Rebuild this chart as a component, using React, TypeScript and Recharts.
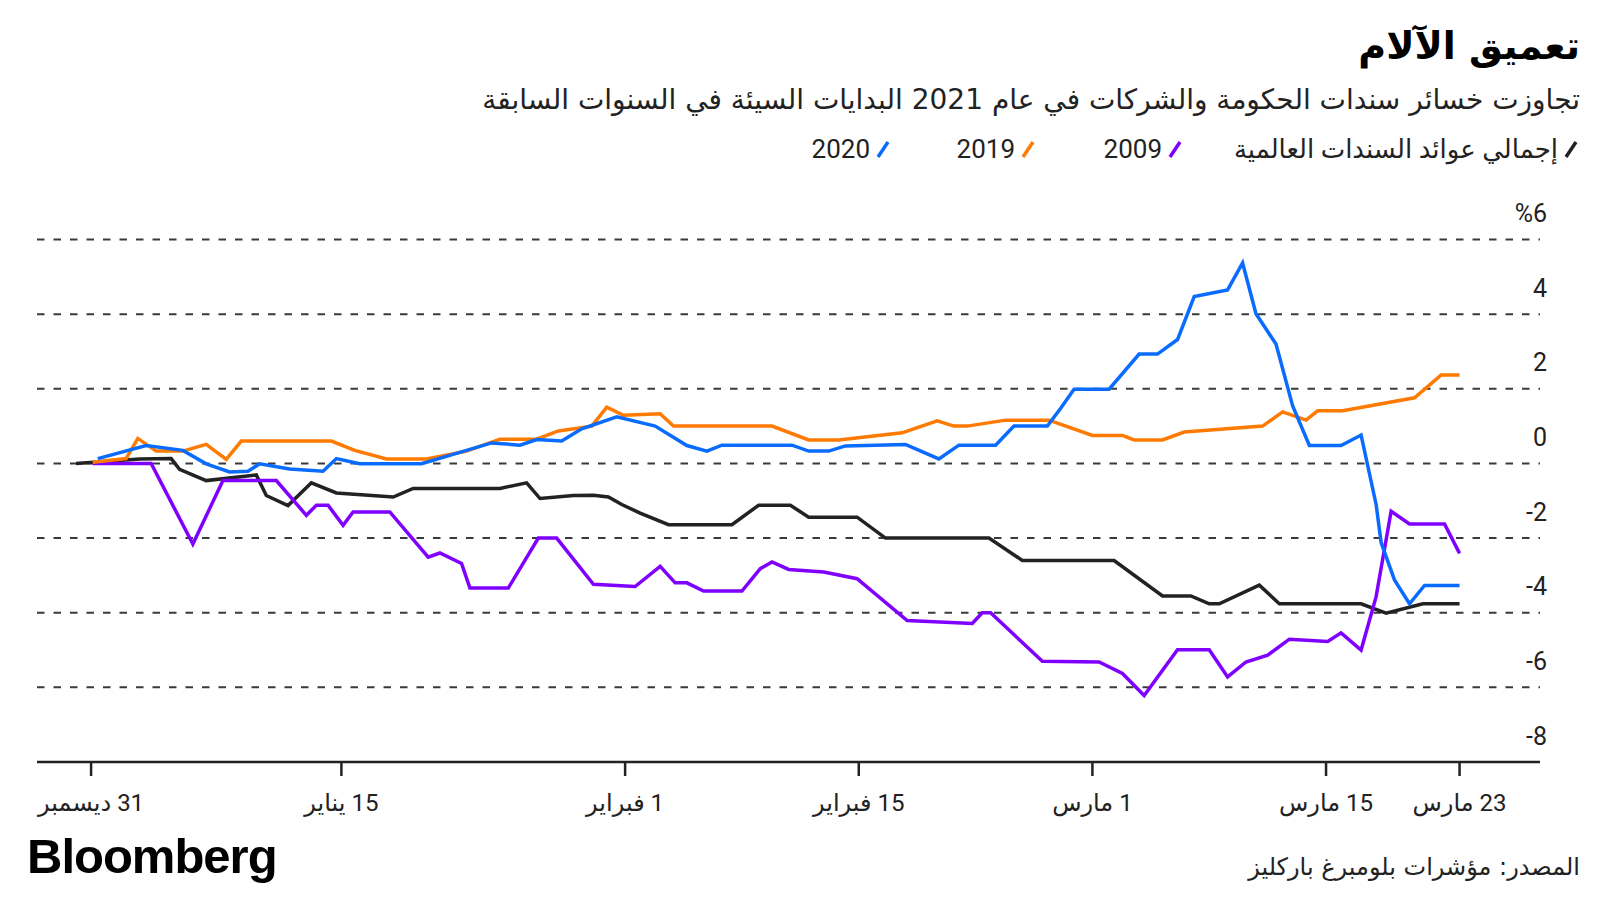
import React from 'react';
import { LineChart, Line, XAxis, YAxis, CartesianGrid } from 'recharts';

// x: calendar days since 31 Dec; y: cumulative return, %
const xTickDays = [0, 15, 32, 46, 60, 74, 82];
const xTickLabels = ['31 ديسمبر', '15 يناير', '1 فبراير', '15 فبراير', '1 مارس', '15 مارس', '23 مارس'];
const yTicks = [-8, -6, -4, -2, 0, 2, 4, 6];
const yTickLabels = ['-8', '-6', '-4', '-2', '0', '2', '4', '%6'];

const seriesNames = ['إجمالي عوائد السندات العالمية', '2009', '2019', '2020'];
const seriesColors = ['#222222', '#7f00ff', '#ff7a00', '#0a6cff'];

const globalAgg2021: [number, number][] = [
  [-0.9, 0], [2.9, 0.12], [4.8, 0.13], [5.3, -0.16], [6.9, -0.46], [9.9, -0.31], [10.5, -0.86],
  [11.8, -1.13], [13.2, -0.52], [14.7, -0.79], [18.1, -0.9], [19.3, -0.67], [24.5, -0.67],
  [26.1, -0.52], [26.9, -0.94], [28.9, -0.86], [30.1, -0.85], [31.0, -0.9], [31.8, -1.1],
  [32.9, -1.33], [34.6, -1.64], [38.4, -1.64], [40.0, -1.12], [41.9, -1.12], [43.0, -1.44],
  [45.9, -1.44], [47.6, -2.0], [53.8, -2.0], [55.8, -2.6], [61.3, -2.6], [64.2, -3.55],
  [65.9, -3.55], [67.0, -3.76], [67.6, -3.76], [70.0, -3.26], [71.2, -3.76], [76.1, -3.76],
  [77.6, -4.01], [79.8, -3.76], [82.0, -3.76],
];

const year2009: [number, number][] = [
  [0.1, 0], [3.6, 0], [6.1, -2.16], [7.9, -0.46], [11.1, -0.46], [12.9, -1.39], [13.5, -1.12],
  [14.2, -1.12], [15.1, -1.66], [15.7, -1.3], [17.9, -1.3], [20.2, -2.51], [20.9, -2.4],
  [22.2, -2.68], [22.7, -3.34], [25.0, -3.34], [26.8, -2.0], [27.9, -2.0], [30.1, -3.24],
  [32.6, -3.3], [34.1, -2.76], [35.0, -3.2], [35.7, -3.2], [36.7, -3.42], [39.0, -3.42],
  [40.1, -2.82], [40.8, -2.64], [41.8, -2.84], [43.9, -2.91], [45.9, -3.09], [48.9, -4.21],
  [52.8, -4.29], [53.4, -4.0], [53.9, -4.0], [57.0, -5.3], [60.4, -5.32], [61.8, -5.63],
  [63.1, -6.22], [65.1, -4.99], [67.0, -4.99], [68.1, -5.72], [69.2, -5.32], [70.5, -5.14],
  [71.8, -4.71], [74.1, -4.77], [74.9, -4.54], [76.1, -5.0], [77.0, -3.57], [77.9, -1.28],
  [79.0, -1.62], [81.1, -1.62], [82.0, -2.41],
];

const year2019: [number, number][] = [
  [0.1, 0.03], [2.1, 0.13], [2.8, 0.67], [3.9, 0.33], [5.5, 0.33], [6.9, 0.51], [8.1, 0.11],
  [9.0, 0.6], [14.4, 0.6], [15.8, 0.35], [17.7, 0.12], [20.1, 0.12], [22.5, 0.33], [24.5, 0.65],
  [26.7, 0.65], [28.0, 0.87], [30.0, 1.0], [30.9, 1.51], [31.9, 1.29], [34.1, 1.33], [34.9, 1.0],
  [40.8, 1.0], [43.0, 0.63], [44.8, 0.63], [48.6, 0.82], [50.7, 1.14], [51.7, 1.0], [52.5, 1.0],
  [54.8, 1.16], [57.4, 1.16], [60.0, 0.75], [61.8, 0.75], [62.5, 0.63], [64.2, 0.63],
  [65.5, 0.84], [70.2, 1.0], [71.4, 1.38], [72.8, 1.16], [73.5, 1.41], [75.0, 1.41],
  [79.3, 1.76], [80.9, 2.37], [82.0, 2.37],
];

const year2020: [number, number][] = [
  [0.4, 0.13], [3.3, 0.48], [5.5, 0.35], [6.9, -0.01], [8.3, -0.23], [9.4, -0.21], [10.1, -0.01],
  [11.9, -0.15], [13.9, -0.21], [14.7, 0.13], [16.1, -0.01], [19.8, -0.01], [24.0, 0.55],
  [25.7, 0.49], [26.7, 0.64], [28.2, 0.6], [29.4, 0.93], [31.5, 1.25], [33.8, 1.0], [35.7, 0.48],
  [36.9, 0.33], [37.8, 0.49], [42.0, 0.49], [43.0, 0.33], [44.2, 0.33], [45.2, 0.47],
  [48.8, 0.51], [50.8, 0.12], [52.0, 0.49], [54.2, 0.49], [55.3, 1.0], [57.3, 1.0], [58.1, 1.48],
  [58.9, 1.99], [61.0, 1.99], [62.8, 2.93], [63.9, 2.93], [65.1, 3.32], [66.1, 4.47],
  [68.1, 4.65], [69.0, 5.37], [69.8, 4.01], [71.0, 3.2], [72.0, 1.54], [73.0, 0.48], [74.9, 0.48],
  [76.1, 0.76], [77.0, -1.1], [77.3, -2.12], [78.1, -3.12], [79.0, -3.76], [79.9, -3.27],
  [82.0, -3.27],
];

const allSeries = [globalAgg2021, year2009, year2019, year2020];

// legend item right edges (page px)
const legendRight = [20, 416, 563, 708];

const AR_FONT = "'DejaVu Sans', 'Noto Sans', sans-serif";
const NUM_FONT = "Roboto, 'DejaVu Sans', sans-serif";
const TEXT = '#222222';

const toRows = (pts: [number, number][]) => pts.map(([d, v]) => ({ d, v }));

const YTick = (props: any) => {
  const { x, y, payload } = props;
  const i = yTicks.indexOf(payload.value);
  return (
    <text x={x + 7} y={y - 26} textAnchor="end" dominantBaseline="central" fontSize={25}
      fill={TEXT} fontFamily={NUM_FONT}>{yTickLabels[i]}</text>
  );
};

const XTick = (props: any) => {
  const { x, y, payload } = props;
  const i = xTickDays.indexOf(payload.value);
  return (
    <text x={x} y={y + 27} textAnchor="middle" dominantBaseline="central" fontSize={24}
      fill={TEXT} fontFamily={NUM_FONT} direction="rtl" style={{ direction: 'rtl', unicodeBidi: 'embed' }}>
      {xTickLabels[i]}
    </text>
  );
};

const Slash = ({ color }: { color: string }) => (
  <svg width={18} height={24} style={{ display: 'block' }}>
    <line x1={4} y1={20} x2={14} y2={5} stroke={color} strokeWidth={3.5} />
  </svg>
);

export default function App() {
  return (
    <div style={{ position: 'absolute', left: 0, top: 0, width: 1600, height: 900, background: '#fff', overflow: 'hidden' }}>
      <div dir="rtl" style={{ position: 'absolute', right: 20, top: 20, fontFamily: AR_FONT, fontWeight: 700, fontSize: 38, lineHeight: '52px', color: '#000' }}>
        تعميق الآلام
      </div>
      <div dir="rtl" style={{ position: 'absolute', right: 20, top: 80, fontFamily: AR_FONT, fontSize: 28, lineHeight: '40px', color: TEXT }}>
        تجاوزت خسائر سندات الحكومة والشركات في عام 2021 البدايات السيئة في السنوات السابقة
      </div>
      {seriesNames.map((n, i) => (
        <div key={n} dir="rtl" style={{ position: 'absolute', right: legendRight[i], top: 131, display: 'flex', alignItems: 'center', fontFamily: NUM_FONT, fontSize: 26, lineHeight: '36px', color: TEXT, whiteSpace: 'nowrap' }}>
          <Slash color={seriesColors[i]} />
          <span style={{ marginRight: 4 }}>{n}</span>
        </div>
      ))}

      <LineChart width={1600} height={900} margin={{ top: 239.5, right: 0, left: 37, bottom: 98 }}>
        <CartesianGrid vertical={false} stroke="#3a3a3a" strokeDasharray="7.5 9" strokeWidth={2} />
        <XAxis type="number" dataKey="d" domain={[-3.24, 86.82]} ticks={xTickDays} allowDataOverflow
          height={40} tickSize={14} tickMargin={0} interval={0}
          axisLine={{ stroke: '#222', strokeWidth: 2.5 }} tickLine={{ stroke: '#222', strokeWidth: 2.5 }}
          tick={<XTick />} />
        <YAxis type="number" orientation="right" width={60} domain={[-8, 6]} ticks={yTicks} interval={0}
          axisLine={false} tickLine={false} tickSize={0} tickMargin={0} tick={<YTick />} />
        {allSeries.map((s, i) => (
          <Line key={seriesNames[i]} data={toRows(s)} dataKey="v" type="linear" stroke={seriesColors[i]}
            strokeWidth={3.5} dot={false} activeDot={false} isAnimationActive={false} />
        ))}
      </LineChart>

      <div style={{ position: 'absolute', left: 27, top: 826, fontFamily: "'Liberation Sans', Arial, sans-serif", fontWeight: 700, fontSize: 49, letterSpacing: -1, lineHeight: '60px', color: '#000' }}>
        Bloomberg
      </div>
      <div dir="rtl" style={{ position: 'absolute', right: 20, top: 849, fontFamily: AR_FONT, fontSize: 24, lineHeight: '36px', color: TEXT }}>
        المصدر: مؤشرات بلومبرغ باركليز
      </div>
    </div>
  );
}
